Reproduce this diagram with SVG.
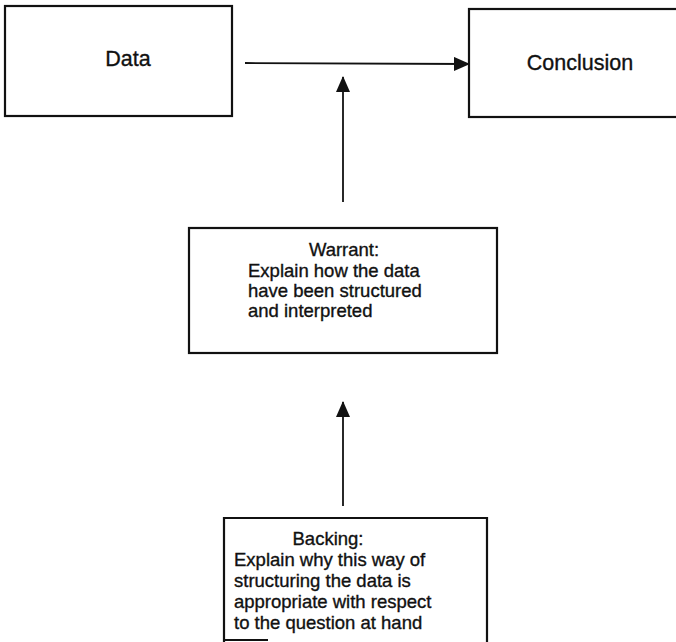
<svg xmlns="http://www.w3.org/2000/svg" width="676" height="642" viewBox="0 0 676 642">
<style>
.box{fill:#fff;stroke:#111;stroke-width:2.2}
.t{font-family:"Liberation Sans",Arial,sans-serif;fill:#111;stroke:#111;stroke-width:0.35}
.big{font-size:21.5px}
.sm{font-size:18.5px}
.ln{stroke:#111;stroke-width:1.8;fill:none}
</style>
<defs>
<marker id="ah" markerWidth="16" markerHeight="14" refX="15" refY="7" orient="auto" markerUnits="userSpaceOnUse">
<path d="M0,0 L16,7 L0,14 Z" fill="#111"/>
</marker>
</defs>
<rect width="676" height="642" fill="#fff"/>
<g id="data">
<rect class="box" x="5" y="6" width="227" height="110"/>
<text class="t big" x="128" y="66" text-anchor="middle">Data</text>
</g>
<g id="conclusion">
<rect class="box" x="469" y="9" width="220" height="108"/>
<text class="t big" x="580" y="70" text-anchor="middle">Conclusion</text>
</g>
<g id="warrant">
<rect class="box" x="189" y="228" width="308" height="125"/>
<text class="t sm" x="344" y="256" text-anchor="middle">Warrant:</text>
<text class="t sm" x="248" y="277">Explain how the data</text>
<text class="t sm" x="248" y="297">have been structured</text>
<text class="t sm" x="248" y="317">and interpreted</text>
</g>
<g id="backing">
<path class="box" d="M224,650 L224,518 L487,518 L487,650"/>
<line class="box" x1="224" y1="640" x2="268" y2="640"/>
<text class="t sm" x="328" y="545" text-anchor="middle">Backing:</text>
<text class="t sm" x="234" y="566">Explain why this way of</text>
<text class="t sm" x="234" y="587">structuring the data is</text>
<text class="t sm" x="234" y="608">appropriate with respect</text>
<text class="t sm" x="234" y="629">to the question at hand</text>
</g>
<g id="connectors">
<line class="ln" x1="245" y1="63" x2="469" y2="64" marker-end="url(#ah)"/>
<line class="ln" x1="343" y1="202" x2="343" y2="77" marker-end="url(#ah)"/>
<line class="ln" x1="343" y1="506" x2="343" y2="402" marker-end="url(#ah)"/>
</g>
</svg>
